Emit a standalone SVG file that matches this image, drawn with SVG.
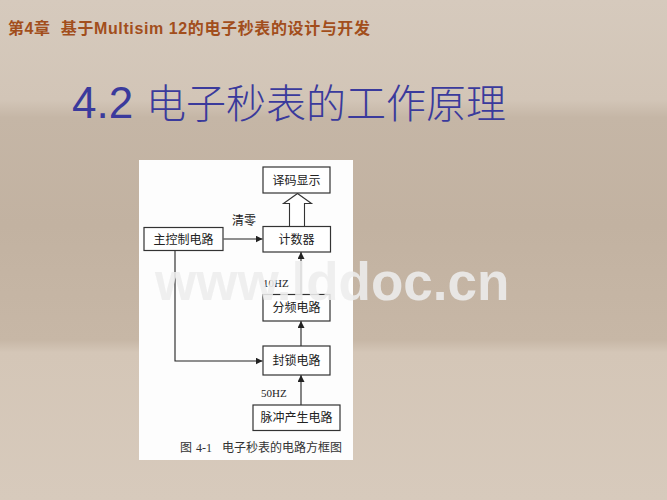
<svg xmlns="http://www.w3.org/2000/svg" width="667" height="500" viewBox="0 0 667 500">
<defs>
<linearGradient id="bg" x1="0" y1="0" x2="0" y2="1">
<stop offset="0" stop-color="#d6cabd"/>
<stop offset="0.2" stop-color="#d2c5b7"/>
<stop offset="0.235" stop-color="#c5b6a6"/>
<stop offset="0.45" stop-color="#c2b2a1"/>
<stop offset="0.68" stop-color="#c7b7a6"/>
<stop offset="0.705" stop-color="#d4c6b7"/>
<stop offset="1" stop-color="#d7cabc"/>
</linearGradient>
<marker id="arr" viewBox="0 0 10 10" refX="10" refY="5" markerWidth="7" markerHeight="7" markerUnits="userSpaceOnUse" orient="auto">
<path d="M0,0 L10,5 L0,10 z" fill="#222"/>
</marker>
<style>
.box{fill:#fff;stroke:#333;stroke-width:1.2}
.lbl{font-family:"Noto Sans CJK SC","Noto Sans",sans-serif;font-size:12px;fill:#222;text-anchor:middle}
.con{fill:none;stroke:#222;stroke-width:1.1}
.sm{font-family:"Liberation Serif","Noto Sans CJK SC",serif;font-size:11px;fill:#222}
</style>
</defs>
<rect x="0" y="0" width="667" height="500" fill="url(#bg)"/>
<text x="8" y="34" font-family="'Liberation Sans','Noto Sans CJK SC',sans-serif" font-size="16" font-weight="bold" fill="#a24e1c" textLength="362" lengthAdjust="spacing" xml:space="preserve">第4章  基于Multisim 12的电子秒表的设计与开发</text>
<text y="118" font-family="'Liberation Sans','Noto Sans CJK SC',sans-serif" fill="#3a3a9c"><tspan x="72" font-size="44">4.2</tspan><tspan x="146" font-size="40" font-family="'Noto Sans CJK SC',sans-serif" font-weight="300">电子秒表的工作原理</tspan></text>
<rect x="139" y="160" width="214" height="300" fill="#fdfdfd"/>
<g id="connectors">
<path class="con" d="M223.5,239 L262.5,239" marker-end="url(#arr)"/>
<path class="con" d="M175,250 L175,361 L262.5,361" marker-end="url(#arr)"/>
<path class="con" d="M301,294 L301,252" marker-end="url(#arr)"/>
<path class="con" d="M301,346 L301,321" marker-end="url(#arr)"/>
<path class="con" d="M301,405 L301,375" marker-end="url(#arr)"/>
<polygon points="289.5,226.5 289.5,203.5 283.5,203.5 297.5,193.5 311.5,203.5 304.5,203.5 304.5,226.5" fill="#fff" stroke="#333" stroke-width="1.1"/>
<text x="232" y="225" font-family="'Noto Sans CJK SC',sans-serif" font-size="12" fill="#222">清零</text>
<text class="sm" x="263" y="287">10HZ</text>
<text class="sm" x="261" y="397">50HZ</text>
</g>
<g id="decode"><rect class="box" x="263" y="167" width="67" height="26"/><text class="lbl" x="296.5" y="184.5">译码显示</text></g>
<g id="main"><rect class="box" x="144" y="227.5" width="79" height="23"/><text class="lbl" x="183.5" y="243.5">主控制电路</text></g>
<g id="counter"><rect class="box" x="263" y="226.5" width="67.5" height="25.5"/><text class="lbl" x="296.5" y="243.5">计数器</text></g>
<g id="divider"><rect class="box" x="263" y="294.5" width="67" height="26.5"/><text class="lbl" x="296.5" y="312">分频电路</text></g>
<g id="lock"><rect class="box" x="263" y="346" width="67" height="29"/><text class="lbl" x="296.5" y="364.5">封锁电路</text></g>
<g id="pulse"><rect class="box" x="253" y="405" width="87" height="25.5"/><text class="lbl" x="296.5" y="422">脉冲产生电路</text></g>
<text y="452" font-family="'Noto Sans CJK SC',sans-serif" font-size="12" fill="#333"><tspan x="180">图</tspan><tspan x="196" font-family="'Liberation Serif',serif">4-1</tspan><tspan x="222">电子秒表的电路方框图</tspan></text>
<text x="155" y="300" font-family="'Liberation Sans',sans-serif" font-size="53" font-weight="bold" fill="#ededed" fill-opacity="0.88">www.lddoc.cn</text>
</svg>
